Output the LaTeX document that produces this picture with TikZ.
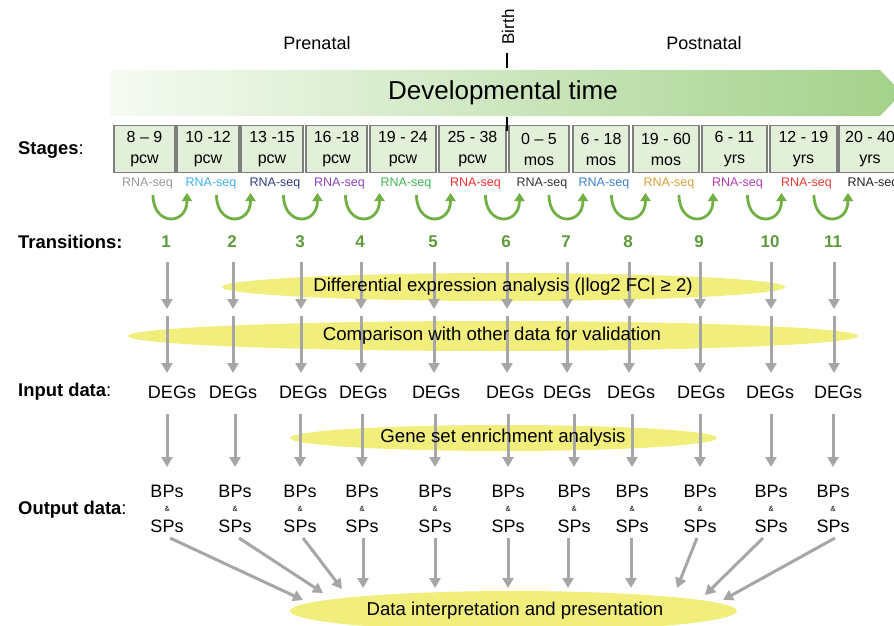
\documentclass[tikz,border=0pt]{standalone}
\usepackage{fontspec}
\setmainfont{Liberation Sans}
\usetikzlibrary{arrows.meta,shapes.geometric}
\definecolor{boxfill}{HTML}{E2EFD9}
\definecolor{boxline}{HTML}{7F7F7F}
\definecolor{bannerL}{HTML}{F6FBF3}
\definecolor{bannerR}{HTML}{A3D18A}
\definecolor{numgreen}{HTML}{5E9B3C}
\definecolor{arrowgreen}{HTML}{70B044}
\definecolor{flowgray}{HTML}{A6A6A6}
\definecolor{blobyellow}{HTML}{F1EE7C}
\definecolor{seqc1}{HTML}{9A9A9A}
\definecolor{seqc2}{HTML}{3DB0EA}
\definecolor{seqc3}{HTML}{2F3B86}
\definecolor{seqc4}{HTML}{8B42C4}
\definecolor{seqc5}{HTML}{3DB653}
\definecolor{seqc6}{HTML}{FF2E2E}
\definecolor{seqc7}{HTML}{333333}
\definecolor{seqc8}{HTML}{3A80D6}
\definecolor{seqc9}{HTML}{D8A23A}
\definecolor{seqc10}{HTML}{B53CB8}
\definecolor{seqc11}{HTML}{E83A32}
\definecolor{seqc12}{HTML}{222222}
\begin{document}
\begin{tikzpicture}[x=1pt,y=-1pt,
  stagebox/.style={draw=boxline, fill=boxfill, line width=1.4pt, inner sep=0pt,
    minimum height=47pt, align=center, font=\fontsize{16}{21}\selectfont},
  seqlabel/.style={font=\fontsize{12.5}{14}\selectfont, inner sep=0pt},
  rowlabel/.style={anchor=west, font=\fontsize{18.4}{20}\selectfont, inner sep=0pt},
  toplabel/.style={font=\fontsize{18}{20}\selectfont, inner sep=0pt},
  trnum/.style={font=\fontsize{17}{20}\selectfont\bfseries, text=numgreen, inner sep=0pt},
  datatext/.style={font=\fontsize{18}{20}\selectfont, inner sep=0pt},
  amptext/.style={font=\fontsize{7.5}{8}\selectfont, inner sep=0pt},
  blobtext/.style={font=\fontsize{18.6}{20}\selectfont, inner sep=0pt},
  flow/.style={draw=flowgray, line width=3pt, -{Triangle[width=11pt,length=10pt]}},
  trarrow/.style={draw=arrowgreen, line width=2.8pt, -{Triangle[width=10pt,length=8pt]}},
  blob/.style={ellipse, fill=blobyellow, inner sep=0pt},
  birthtick/.style={draw=black, line width=2pt},
]
\useasboundingbox (0,0) rectangle (894,626);
\clip (0,0) rectangle (894,626);

% top labels
\node[toplabel] (prenatal) at (317,43) {Prenatal};
\node[toplabel] (postnatal) at (704,43) {Postnatal};
\node[toplabel, rotate=90, font=\fontsize{17}{20}\selectfont] (birth) at (508,27) {Birth};
\coordinate (bt1a) at (507,53); \coordinate (bt1b) at (507,68);

% banner
\shade[left color=bannerL, right color=bannerR]
  (110,70) -- (880,70) -- (902,93) -- (880,116) -- (110,116) -- cycle;
\node[font=\fontsize{26}{30}\selectfont, inner sep=0pt] (devtime) at (503,93) {Developmental time};
\draw[birthtick] (bt1a) -- (bt1b);

% row labels
\node[rowlabel] (lstages) at (18,150) {{\bfseries Stages}:};
\node[rowlabel] (ltrans) at (18,242) {\bfseries Transitions:};
\node[rowlabel] (linput) at (18,392) {{\bfseries Input data}:};
\node[rowlabel] (loutput) at (18,510) {{\bfseries Output data}:};

% stage boxes
\foreach \i/\cx/\w/\la/\lb in {
  1/144.5/61/8 – 9/pcw, 2/208/62/10 -12/pcw, 3/272/62/13 -15/pcw,
  4/336.5/61/16 -18/pcw, 5/403/66/19 - 24/pcw, 6/472.5/67/25 - 38/pcw,
  7/539/60/0 – 5/mos, 8/601/56/6 - 18/mos, 9/666/66/19 - 60/mos,
  10/734.5/65/6 - 11/yrs, 11/803.5/67/12 - 19/yrs, 12/870/62/20 - 40/yrs}{
  \node[stagebox, minimum width=\w pt] (box\i) at (\cx,149) {\la\\\lb};
  \node[seqlabel, text=seqc\i] (seq\i) at (\cx+3,183) {RNA-seq};
}
\coordinate (bt2a) at (507,117); \coordinate (bt2b) at (507,131);
\draw[birthtick] (bt2a) -- (bt2b);

% yellow ellipses (drawn below the arrows)
\node[blob, minimum width=563pt, minimum height=28pt] (dea) at (503.5,287) {};
\node[blob, minimum width=730pt, minimum height=30pt] (cmp) at (493,336) {};
\node[blob, minimum width=427pt, minimum height=26pt] (gsea) at (503.5,438) {};
\node[blob, minimum width=447pt, minimum height=40pt] (dip) at (513.5,611) {};

% transitions and data columns
\foreach \i/\ux/\cx/\dx/\bx/\sx/\tx/\ty in {
  1/170/167/172/167/170/303/600,
  2/233.5/233/233/235/239/323/593,
  3/300.5/301/303/300/303/342/589,
  4/362.5/361/363/362/363/363/588,
  5/433.5/434/436/435/435/435/588,
  6/502.5/507/510/508/508/508/588,
  7/566/567/567/574/568/568/588,
  8/628.5/629/631/632/631/631/588,
  9/696/700/701/700/697/677/588,
  10/764.5/771/770/771/763/705/595,
  11/831/834/838/833/835/723/600}{
  % green transition arrow
  \coordinate (ua\i) at (\ux-17,195);
  \coordinate (ub\i) at (\ux+17,193);
  \draw[trarrow] (ua\i) .. controls (\ux-17,226) and (\ux+17,226) .. (ub\i);
  \node[trnum] (num\i) at (\cx-1,242) {\i};
  % vertical flow
  \coordinate (fa\i) at (\cx,262);
  \coordinate (fb\i) at (\cx,309);
  \coordinate (fc\i) at (\cx,316);
  \coordinate (fd\i) at (\cx,373);
  \draw[flow] (fa\i) -- (fb\i);
  \draw[flow] (fc\i) -- (fd\i);
  \node[datatext] (deg\i) at (\dx,392) {DEGs};
  \coordinate (fe\i) at (\bx,414);
  \coordinate (ff\i) at (\bx,467);
  \draw[flow] (fe\i) -- (ff\i);
  \node[datatext] (bp\i) at (\bx,491) {BPs};
  \node[amptext] (amp\i) at (\bx,509) {\&};
  \node[datatext] (sp\i) at (\bx,526) {SPs};
  \coordinate (fg\i) at (\sx,538);
  \coordinate (fh\i) at (\tx,\ty);
  \draw[flow] (fg\i) -- (fh\i);
}

% ellipse texts on top
\node[blobtext] (deat) at (503,287) {Differential expression analysis (|log2 FC| ≥ 2)};
\node[blobtext] (cmpt) at (492,336) {Comparison with other data for validation};
\node[blobtext] (gseat) at (503,438) {Gene set enrichment analysis};
\node[blobtext] (dipt) at (515,611) {Data interpretation and presentation};
\end{tikzpicture}
\end{document}
